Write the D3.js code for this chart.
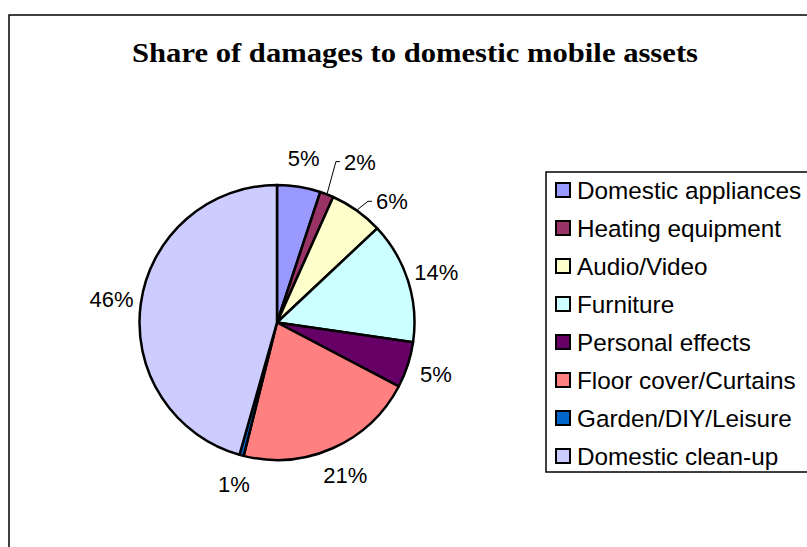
<!DOCTYPE html>
<html>
<head>
<meta charset="utf-8">
<script src="https://cdn.jsdelivr.net/npm/d3@7"></script>
<style>
  html, body { margin: 0; padding: 0; background: #fff; }
  svg { display: block; }
</style>
</head>
<body>
<svg id="chart" width="807" height="547"></svg>
<script>
const categories = ["Domestic appliances", "Heating equipment", "Audio/Video", "Furniture",
  "Personal effects", "Floor cover/Curtains", "Garden/DIY/Leisure", "Domestic clean-up"];
const values = [5.1, 1.6, 6.3, 14.3, 5.4, 21.2, 0.5, 45.6];
const colors = ["#9999FF", "#993366", "#FFFFCC", "#CCFFFF", "#660066", "#FF8080", "#0066CC", "#CCCCFF"];
const title = "Share of damages to domestic mobile assets";

const svg = d3.select("#chart");

// outer frame
svg.append("rect").attr("x", 9).attr("y", 15).attr("width", 820).attr("height", 560)
  .attr("fill", "#fff").attr("stroke", "#000").attr("stroke-width", 1.5);

// title
svg.append("text").attr("x", 415).attr("y", 62).attr("text-anchor", "middle")
  .attr("font-family", "Liberation Serif, serif").attr("font-weight", "bold")
  .attr("font-size", 27.5).attr("textLength", 566).attr("lengthAdjust", "spacingAndGlyphs")
  .text(title);

const cx = 277, cy = 322.5, R = 137.5;
const data = categories.map((c, i) => ({ name: c, value: values[i], color: colors[i] }));
const pie = d3.pie().value(d => d.value).sort(null);
const arcs = pie(data);
const arc = d3.arc().innerRadius(0).outerRadius(R);

const g = svg.append("g").attr("transform", `translate(${cx},${cy})`);
g.selectAll("path.slice").data(arcs).join("path").attr("class", "slice")
  .attr("d", arc).attr("fill", d => d.data.color)
  .attr("stroke", "#000").attr("stroke-width", 2.5).attr("stroke-linejoin", "round");

// labels
const total = d3.sum(values);
const labelText = v => Math.round(v / total * 100) + "%";
// label moves for crowded small slices: [angle shift (deg), radius]
const labelMove = { 1: [6, 181], 2: [8, 167] };
const labelFont = 22;
arcs.forEach((a, i) => {
  const mid = (a.startAngle + a.endAngle) / 2;
  const mv = labelMove[i];
  const ang = mv ? mid + mv[0] * Math.PI / 180 : mid;
  const r = mv ? mv[1] : 167;
  const lx = r * Math.sin(ang), ly = -r * Math.cos(ang);
  const t = g.append("text").attr("x", lx).attr("y", ly).attr("dy", "0.36em")
    .attr("text-anchor", "middle")
    .attr("font-family", "Liberation Sans, Arial, sans-serif").attr("font-size", labelFont)
    .attr("fill", "#000").text(labelText(a.value));
  if (mv) {
    const ex = (R + 1) * Math.sin(mid), ey = -(R + 1) * Math.cos(mid);
    const w = t.node().getComputedTextLength();
    const tx = lx - w / 2 - 4;
    const midX = tx - 4;
    g.append("polyline")
      .attr("points", `${ex},${ey} ${midX},${ly} ${tx},${ly}`)
      .attr("fill", "none").attr("stroke", "#000").attr("stroke-width", 1);
  }
});

// legend
const lg = svg.append("g");
lg.append("rect").attr("x", 546).attr("y", 172).attr("width", 300).attr("height", 300)
  .attr("fill", "#fff").attr("stroke", "#000").attr("stroke-width", 1.5);
const ly0 = 190, lstep = 38;
categories.forEach((c, i) => {
  const y = ly0 + i * lstep;
  lg.append("rect").attr("x", 556).attr("y", y - 7).attr("width", 14).attr("height", 14)
    .attr("fill", colors[i]).attr("stroke", "#000").attr("stroke-width", 2);
  lg.append("text").attr("x", 577).attr("y", y).attr("dy", "0.36em")
    .attr("font-family", "Liberation Sans, Arial, sans-serif").attr("font-size", 24.3)
    .attr("fill", "#000").text(c);
});
</script>
</body>
</html>
